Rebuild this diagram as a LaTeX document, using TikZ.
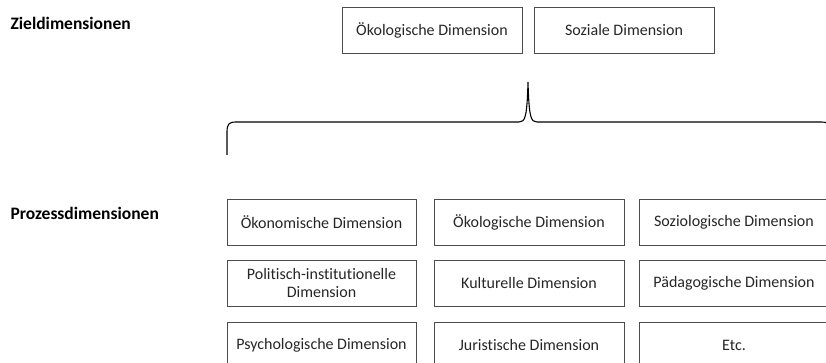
\documentclass[tikz,border=0pt]{standalone}
\usepackage{fontspec}
\setmainfont{Carlito}[Ligatures=NoCommon]

\begin{document}
\begin{tikzpicture}
        [x=1pt,y=-1pt,every node/.style={font=\fontsize{16}{18}\selectfont,text=black!85},
         dimbox/.style={draw=black!70,line width=0.8pt,minimum height=46pt,inner sep=0,align=center},
         head/.style={anchor=west,font=\fontsize{17.5}{19}\selectfont\bfseries,text=black}]

        \clip (0,0) rectangle (826,363);

        \node[head] (ziel) at (7,23) {Zieldimensionen};
        \node[head] (prozess) at (7,213) {Prozessdimensionen};

        \node[dimbox,minimum width=180pt] (zoeko) at (432,30) {Ökologische Dimension};
        \node[dimbox,minimum width=180pt] (zsoz) at (624,30) {Soziale Dimension};

        \node[dimbox,minimum width=189pt] (poeko) at (321.5,222) {Ökonomische Dimension};
        \node[dimbox,minimum width=190pt] (pokol) at (529,222) {Ökologische Dimension};
        \node[dimbox,minimum width=190pt] (psoz) at (734,222) {Soziologische Dimension};
        \node[dimbox,minimum width=189pt] (ppol) at (321.5,283.5) {Politisch-institutionelle\\Dimension};
        \node[dimbox,minimum width=190pt] (pkul) at (529,283.5) {Kulturelle Dimension};
        \node[dimbox,minimum width=190pt] (ppaed) at (734,283.5) {Pädagogische Dimension};
        \node[dimbox,minimum width=189pt] (ppsy) at (321.5,345) {Psychologische Dimension};
        \node[dimbox,minimum width=190pt] (pjur) at (529,345) {Juristische Dimension};
        \node[dimbox,minimum width=190pt] (petc) at (734,345) {Etc.};

        \coordinate (bl) at (227,155);
        \coordinate (tip) at (528,82);
        \coordinate (br) at (830,155);

        \draw[line width=1.1pt,black]
          (bl) -- (227,132) .. controls (227,124) and (229,122) .. (236,122)
          -- (519,122) .. controls (525,122) and (527,118) .. (tip)
          .. controls (529,118) and (531,122) .. (537,122)
          -- (821,122) .. controls (828,122) and (830,124) .. (830,132) -- (br);

      \end{tikzpicture}
\end{document}
